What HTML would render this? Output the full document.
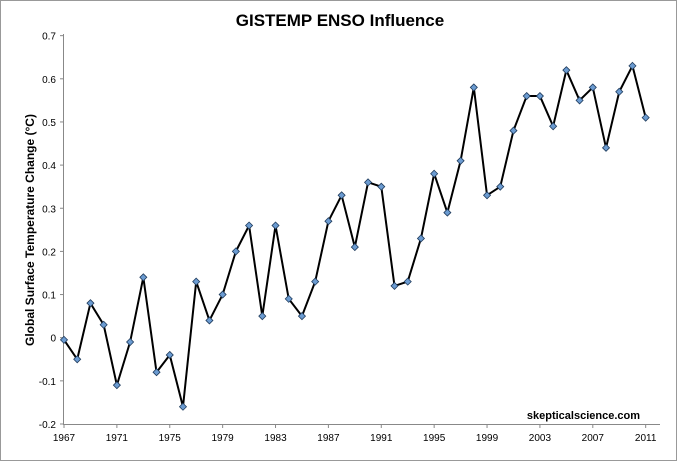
<!DOCTYPE html>
<html><head><style>
body{margin:0;background:#fff;}
svg{display:block;font-family:"Liberation Sans",sans-serif;}
</style></head><body>
<svg id="s" width="677" height="461" xmlns="http://www.w3.org/2000/svg">
<rect x="0.5" y="0.5" width="676" height="460" fill="#fff" stroke="#999"/>
<text x="340" y="26" text-anchor="middle" font-size="17" font-weight="bold">GISTEMP ENSO Influence</text>
<text transform="translate(34,230) rotate(-90)" text-anchor="middle" font-size="12" font-weight="bold">Global Surface Temperature Change (°C)</text>
<text x="640" y="419" text-anchor="end" font-size="11" font-weight="bold">skepticalscience.com</text>
<line x1="63.5" y1="34" x2="63.5" y2="424" stroke="#888"/>
<line x1="63" y1="424.5" x2="660" y2="424.5" stroke="#888"/>
<g id="g"></g>
</svg>
<script>
var d=[-0.005,-0.05,0.08,0.03,-0.11,-0.01,0.14,-0.08,-0.04,-0.16,0.13,0.04,0.10,0.20,0.26,0.05,0.26,0.09,0.05,0.13,0.27,0.33,0.21,0.36,0.35,0.12,0.13,0.23,0.38,0.29,0.41,0.58,0.33,0.35,0.48,0.56,0.56,0.49,0.62,0.55,0.58,0.44,0.57,0.63,0.51];
function X(i){return 64+i*13.22}
function Y(v){return 337.7-v*431.5}
var s='';
for(var k=0;k<=9;k++){var v=-0.2+k*0.1;var y=Y(v);var lab=(Math.round(v*10)/10).toString();
s+='<line x1="60" x2="63" y1="'+y+'" y2="'+y+'" stroke="#888"/><text x="56" y="'+(y+4)+'" text-anchor="end" font-size="10">'+lab+'</text>';}
for(var i=0;i<=44;i+=4){var x=X(i);s+='<line x1="'+x+'" x2="'+x+'" y1="424" y2="428" stroke="#888"/><text x="'+x+'" y="441" text-anchor="middle" font-size="10">'+(1967+i)+'</text>';}
var p=d.map(function(v,i){return X(i)+','+Y(v)}).join(' ');
s+='<polyline points="'+p+'" fill="none" stroke="#000" stroke-width="2"/>';
d.forEach(function(v,i){var x=X(i),y=Y(v);s+='<polygon points="'+x+','+(y-3.5)+' '+(x+3.5)+','+y+' '+x+','+(y+3.5)+' '+(x-3.5)+','+y+'" fill="#6b9bd1" stroke="#1f3b5c" stroke-width="0.8"/>';});
document.getElementById('g').innerHTML=s;
</script>
</body></html>
